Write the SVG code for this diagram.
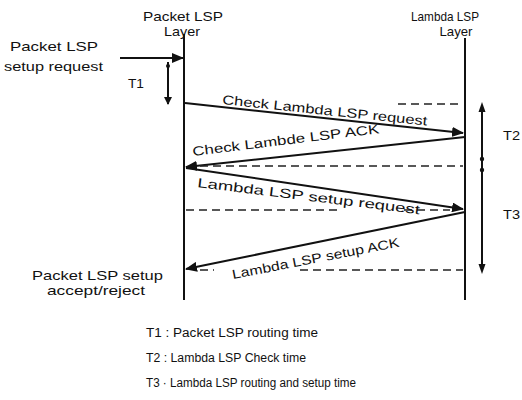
<svg xmlns="http://www.w3.org/2000/svg" width="522" height="400" viewBox="0 0 522 400">
<defs>
<style>
text{font-family:"Liberation Sans",Arial,sans-serif;fill:#111;font-size:13px}
.lg{font-size:12px}
.life{stroke:#111;stroke-width:2;fill:none}
.msg{stroke:#111;stroke-width:2;fill:none}
.dash{stroke:#222;stroke-width:1.6;stroke-dasharray:8 5;fill:none}
.tm{stroke:#111;stroke-width:2;fill:none}
</style>
<marker id="ah" viewBox="0 0 12 10" refX="11" refY="5" markerWidth="12" markerHeight="10" markerUnits="userSpaceOnUse" orient="auto">
<path d="M0,0 L12,5 L0,10 z" fill="#111"/>
</marker>
<marker id="sh" viewBox="0 0 8 8" refX="7" refY="4" markerWidth="8" markerHeight="8" markerUnits="userSpaceOnUse" orient="auto">
<path d="M0,0 L8,4 L0,8 z" fill="#111"/>
</marker>
</defs>
<rect width="522" height="400" fill="#fff"/>

<g id="packet-layer">
<text x="183" y="21" text-anchor="middle" textLength="80" lengthAdjust="spacingAndGlyphs">Packet LSP</text>
<text x="182" y="36" text-anchor="middle" textLength="36" lengthAdjust="spacingAndGlyphs">Layer</text>
<line class="life" x1="184" y1="34" x2="184" y2="300"/>
</g>

<g id="lambda-layer">
<text x="445" y="21" text-anchor="middle" textLength="68" lengthAdjust="spacingAndGlyphs">Lambda LSP</text>
<text x="456" y="36" text-anchor="middle" textLength="33" lengthAdjust="spacingAndGlyphs">Layer</text>
<line class="life" x1="465" y1="38" x2="465" y2="300"/>
</g>

<g id="setup-request">
<text x="10" y="51" textLength="88" lengthAdjust="spacingAndGlyphs">Packet LSP</text>
<text x="4" y="71" textLength="99" lengthAdjust="spacingAndGlyphs">setup request</text>
</g>

<g id="accept-reject">
<text x="32" y="280" textLength="131" lengthAdjust="spacingAndGlyphs">Packet LSP setup</text>
<text x="47" y="295" textLength="98" lengthAdjust="spacingAndGlyphs">accept/reject</text>
</g>

<g id="t1">
<text x="128" y="88" textLength="16" lengthAdjust="spacingAndGlyphs">T1</text>
</g>
<g id="t2">
<text x="503" y="140" textLength="17" lengthAdjust="spacingAndGlyphs">T2</text>
</g>
<g id="t3">
<text x="503" y="219" textLength="17" lengthAdjust="spacingAndGlyphs">T3</text>
</g>

<g id="connectors">
<line class="msg" x1="120" y1="58" x2="183" y2="58" marker-end="url(#ah)"/>
<line class="tm" x1="168" y1="62" x2="168" y2="104" marker-end="url(#sh)"/>
<circle cx="168" cy="66" r="2" fill="#111"/>

<line class="dash" x1="398" y1="104" x2="463" y2="104"/>
<line class="msg" x1="185" y1="103" x2="463" y2="133" marker-end="url(#ah)"/>
<line class="msg" x1="465" y1="137" x2="186" y2="167" marker-end="url(#ah)"/>
<line class="dash" x1="200" y1="166" x2="463" y2="166"/>
<line class="msg" x1="186" y1="168" x2="463" y2="209" marker-end="url(#ah)"/>
<line class="dash" x1="186" y1="210" x2="337" y2="210"/>
<line class="dash" x1="404" y1="210" x2="450" y2="210"/>
<line class="msg" x1="465" y1="212" x2="186" y2="269" marker-end="url(#ah)"/>
<line class="dash" x1="200" y1="270" x2="214" y2="270"/>
<line class="dash" x1="300" y1="270" x2="463" y2="270"/>

<line class="tm" x1="482" y1="108" x2="482" y2="268"/>
<path d="M482,102 L478.5,112 L485.5,112 z" fill="#111"/>
<path d="M482,274 L478.5,264 L485.5,264 z" fill="#111"/>
<circle cx="482" cy="159" r="2.2" fill="#111"/>
<circle cx="482" cy="170" r="2.2" fill="#111"/>
</g>

<g id="msg-labels">
<text transform="translate(222,104) rotate(6)" textLength="206" lengthAdjust="spacingAndGlyphs">Check Lambda LSP request</text>
<text transform="translate(193,156) rotate(-7)" textLength="188" lengthAdjust="spacingAndGlyphs">Check Lambde LSP ACK</text>
<text transform="translate(197,187) rotate(7)" textLength="224" lengthAdjust="spacingAndGlyphs">Lambda LSP setup request</text>
<text transform="translate(233,279) rotate(-11)" textLength="170" lengthAdjust="spacingAndGlyphs">Lambda LSP setup ACK</text>
</g>

<g id="legend">
<text class="lg" x="146" y="337" textLength="172" lengthAdjust="spacingAndGlyphs">T1 : Packet LSP routing time</text>
<text class="lg" x="146" y="362" textLength="160" lengthAdjust="spacingAndGlyphs">T2 : Lambda LSP Check time</text>
<text class="lg" x="146" y="387" textLength="210" lengthAdjust="spacingAndGlyphs">T3 · Lambda LSP routing and setup time</text>
</g>
</svg>
